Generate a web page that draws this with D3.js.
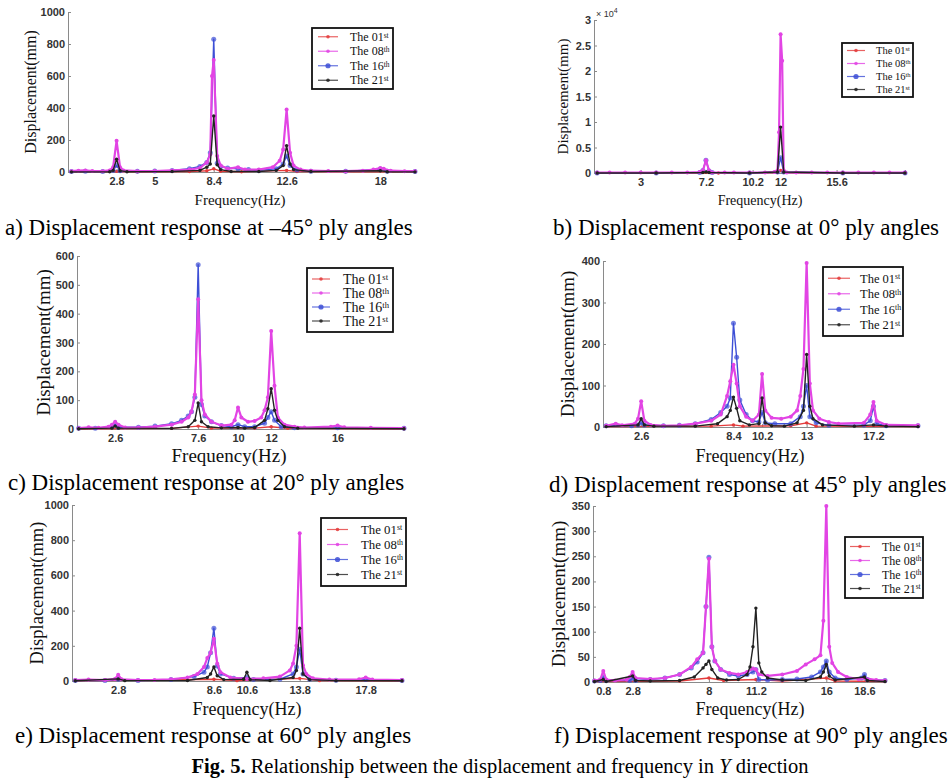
<!doctype html>
<html>
<head>
<meta charset="utf-8">
<script src="https://cdnjs.cloudflare.com/ajax/libs/d3/7.8.5/d3.min.js"></script>
<style>
body{margin:0;background:#fff;}
svg{display:block;font-family:"Liberation Serif","Times New Roman",serif;}
.tick text{font-family:"Liberation Sans",Arial,sans-serif;font-weight:bold;fill:#333;}
</style>
</head>
<body>
<svg id="fig" width="950" height="783"></svg>
<script>
var seriesNames = ["The 01", "The 08", "The 16", "The 21"];
var seriesSup = ["st", "th", "th", "st"];
var seriesColors = ["#e33b3b", "#e244e4", "#3d4fd6", "#222222"];

// a) -45 deg
var aXTicks = [2.8, 5, 8.4, 12.6, 18];
var aYTicks = [0, 200, 400, 600, 800, 1000];
var a01 = [[0.2,1],[2.8,4],[4,1],[7,3],[8,8],[8.4,20],[8.8,5],[10,2],[12.6,10],[13.2,3],[16,1],[20,1]];
var a08 = [[0.2,5],[0.6,8],[1,10],[1.4,6],[2,5],[2.4,10],[2.6,30],[2.8,195],[3,30],[3.2,10],[4,5],[5,6],[6,10],[7,15],[7.6,25],[8,60],[8.2,110],[8.3,600],[8.4,700],[8.6,100],[8.8,40],[9.2,20],[9.8,30],[10.2,15],[11,15],[11.8,30],[12.2,70],[12.4,140],[12.6,390],[12.8,120],[13,40],[13.4,15],[14,8],[15,6],[16,5],[17,8],[17.6,15],[18,25],[18.2,20],[18.6,8],[19.4,5],[20,5]];
var a16 = [[0.2,3],[1,5],[2,3],[2.6,10],[2.8,40],[3,8],[4,4],[5,6],[6,10],[7,20],[7.6,35],[8,60],[8.2,120],[8.4,830],[8.6,55],[8.8,35],[9.2,25],[9.8,20],[10.4,15],[11,10],[12,20],[12.4,50],[12.6,100],[12.8,40],[13.2,12],[14,5],[16,4],[18,18],[18.4,5],[20,3]];
var a21 = [[0.2,1],[2.4,2],[2.6,10],[2.8,80],[3,8],[3.4,2],[6,3],[7.6,10],[8,30],[8.2,50],[8.4,350],[8.6,45],[8.8,15],[9.4,3],[11,3],[12,10],[12.4,40],[12.6,165],[12.8,50],[13,15],[14,3],[18,8],[18.4,2],[20,1]];

// b) 0 deg (x 10^4)
var bXTicks = [3, 7.2, 10.2, 12, 15.6];
var bYTicks = [0, 0.5, 1, 1.5, 2, 2.5, 3];
var b01 = [[0.2,0],[4,0],[8,0],[11.8,0.01],[12,0.05],[12.2,0.01],[16,0],[20,0]];
var b08 = [[0.2,0.01],[1,0.01],[2,0.01],[3,0.01],[4,0.01],[5,0.01],[6,0.01],[6.8,0.02],[7,0.05],[7.2,0.25],[7.4,0.05],[7.6,0.01],[8.4,0.01],[9,0.01],[10,0.01],[11,0.01],[11.6,0.02],[11.8,0.05],[11.9,0.8],[12,2.72],[12.1,2.2],[12.2,0.05],[12.4,0.01],[13,0.01],[14,0.01],[15,0.01],[16,0.01],[17,0.01],[18,0.01],[19,0.01],[20,0.01]];
var b16 = [[0.2,0],[4,0],[6.8,0.01],[7,0.05],[7.2,0.25],[7.4,0.04],[7.6,0.01],[10,0],[11.8,0.02],[12,0.3],[12.2,0.02],[16,0],[20,0]];
var b21 = [[0.2,0],[4,0],[7,0.01],[7.2,0.02],[7.4,0.01],[10,0],[11.8,0.02],[12,0.9],[12.2,0.02],[16,0],[20,0]];

// c) 20 deg
var cXTicks = [2.6, 7.6, 10, 12, 16];
var cYTicks = [0, 100, 200, 300, 400, 500, 600];
var c01 = [[0.4,1],[6,2],[7.6,10],[8.4,3],[11,3],[12,8],[13,2],[20,1]];
var c08 = [[0.4,3],[1,6],[1.6,4],[2.2,8],[2.4,15],[2.6,25],[2.8,15],[3.2,5],[4,5],[5,8],[6,15],[6.6,25],[7,40],[7.2,60],[7.4,120],[7.6,450],[7.8,100],[8,50],[8.4,25],[9,12],[9.6,15],[9.8,30],[10,75],[10.2,40],[10.6,25],[11,28],[11.4,40],[11.6,65],[11.8,110],[12,340],[12.2,150],[12.4,40],[12.8,15],[13.4,8],[14,5],[15.6,8],[16,12],[16.4,6],[18,4],[20,3]];
var c16 = [[0.4,3],[1.4,3],[2.4,8],[2.6,15],[2.8,6],[4,6],[5,10],[6,18],[6.6,30],[7,45],[7.2,60],[7.4,110],[7.6,570],[7.8,85],[8,45],[8.4,25],[9,12],[9.6,8],[10,15],[10.4,8],[11,8],[11.6,20],[11.8,40],[12,60],[12.2,30],[12.6,8],[13.4,4],[16,4],[20,3]];
var c21 = [[0.4,1],[2.4,3],[2.6,10],[2.8,3],[6,2],[7,8],[7.4,30],[7.6,90],[7.8,25],[8.2,8],[9,4],[10,5],[10.4,3],[11,5],[11.6,30],[11.8,70],[12,140],[12.2,65],[12.4,30],[12.8,8],[13.6,3],[20,1]];

// d) 45 deg
var dXTicks = [2.6, 8.4, 10.2, 13, 17.2];
var dYTicks = [0, 100, 200, 300, 400];
var d01 = [[0.4,1],[7,2],[8.4,5],[9,2],[12,3],[13,10],[13.6,2],[20,1]];
var d08 = [[0.4,3],[1,8],[1.4,4],[2.2,8],[2.4,20],[2.6,62],[2.8,15],[3.2,5],[4,3],[5,4],[6,8],[7,15],[7.6,30],[8,75],[8.2,110],[8.4,150],[8.6,105],[8.8,50],[9.2,25],[9.6,15],[10,30],[10.2,128],[10.4,40],[10.8,22],[11.4,20],[12,25],[12.4,40],[12.6,75],[12.8,140],[13,395],[13.2,105],[13.4,40],[13.8,20],[14.4,12],[15,8],[16.6,10],[17,30],[17.2,60],[17.4,15],[18,5],[20,4]];
var d16 = [[0.4,3],[2,3],[2.4,5],[2.6,10],[2.8,5],[4,3],[5,4],[6,8],[7,18],[7.6,35],[8,50],[8.2,70],[8.4,250],[8.6,168],[8.8,65],[9.2,30],[9.6,15],[10,12],[10.2,35],[10.4,10],[11,8],[12,8],[12.6,25],[12.8,50],[13,100],[13.2,25],[13.6,10],[14.4,4],[16.6,5],[17,15],[17.2,50],[17.4,8],[18,3],[20,3]];
var d21 = [[0.4,1],[2.4,5],[2.6,20],[2.8,5],[3.4,2],[6,2],[7.4,8],[8,25],[8.2,40],[8.4,72],[8.6,45],[8.8,15],[9.4,5],[10,8],[10.2,70],[10.4,10],[10.8,3],[11.6,2],[12.4,10],[12.8,40],[13,175],[13.2,50],[13.4,20],[14,5],[16,2],[17.2,5],[18,2],[20,1]];

// e) 60 deg
var eXTicks = [2.8, 8.6, 10.6, 13.8, 17.8];
var eYTicks = [0, 200, 400, 600, 800, 1000];
var e01 = [[0.2,1],[8.6,10],[10,2],[13.8,15],[15,2],[20,1]];
var e08 = [[0.2,5],[1,8],[2,5],[2.6,12],[2.8,35],[3,10],[4,5],[5,6],[6,10],[7,20],[7.6,40],[8,80],[8.2,130],[8.4,160],[8.6,240],[8.8,100],[9,50],[9.6,20],[10.6,12],[11.6,15],[12.6,25],[13.2,60],[13.4,100],[13.6,200],[13.8,840],[14,90],[14.2,40],[14.6,15],[15.6,8],[17.4,10],[17.8,20],[18.2,8],[20,5]];
var e16 = [[0.2,3],[2,3],[2.8,10],[4,3],[6,8],[7.4,25],[8,50],[8.2,80],[8.4,160],[8.6,300],[8.8,85],[9,40],[9.8,15],[10.6,20],[11,8],[12.6,10],[13.4,40],[13.6,80],[13.8,180],[14,40],[14.4,10],[16,4],[17.8,8],[20,3]];
var e21 = [[0.2,1],[2.8,12],[3.2,2],[7,3],[8.2,20],[8.4,40],[8.6,80],[8.8,30],[9.2,8],[10.4,10],[10.6,50],[10.8,8],[12,3],[13.4,20],[13.6,60],[13.8,300],[14,40],[14.4,8],[16,2],[20,1]];

// f) 90 deg
var fXTicks = [0.8, 2.8, 8, 11.2, 16, 18.6];
var fYTicks = [0, 50, 100, 150, 200, 250, 300, 350];
var f01 = [[0.2,1],[6,2],[8,8],[9,3],[11.2,5],[13,2],[16,8],[16.6,2],[20,1]];
var f08 = [[0.2,3],[0.6,5],[0.8,22],[1,5],[1.6,3],[2.4,5],[2.6,10],[2.8,20],[3,8],[4,6],[5,8],[6,15],[6.8,30],[7.2,45],[7.6,58],[7.8,150],[8,245],[8.2,70],[8.4,42],[8.8,25],[9.4,18],[10,15],[10.6,20],[11,27],[11.2,25],[11.4,15],[12,12],[13,15],[14,22],[14.6,35],[15.2,45],[15.6,53],[15.8,122],[16,350],[16.2,70],[16.4,38],[16.8,20],[17.4,10],[18.2,6],[18.6,8],[19.4,4],[20,3]];
var f16 = [[0.2,2],[0.6,3],[0.8,10],[1,3],[2.6,3],[2.8,8],[3,3],[4,5],[5,8],[6,15],[6.8,28],[7.2,40],[7.6,58],[7.8,150],[8,248],[8.2,70],[8.4,42],[8.8,25],[9.4,15],[10,12],[10.6,15],[11,20],[11.2,25],[11.4,5],[12,4],[13,5],[14,6],[15,10],[15.6,20],[15.8,30],[16,42],[16.2,20],[16.6,8],[17.4,5],[18.4,8],[18.6,15],[18.8,5],[20,3]];
var f21 = [[0.2,1],[0.8,5],[1,1],[2.8,12],[3,3],[4,2],[6,3],[7,10],[7.6,28],[7.8,35],[8,42],[8.2,25],[8.6,8],[9.2,4],[10,5],[10.6,15],[10.8,30],[11,70],[11.2,147],[11.4,38],[11.6,20],[12,8],[13,4],[14.6,3],[15.6,10],[15.8,20],[16,35],[16.2,12],[16.6,4],[18.6,10],[18.8,3],[20,1]];

var captions = ["a) Displacement response at \u201345\u00b0 ply angles",
  "b) Displacement response at 0\u00b0 ply angles",
  "c) Displacement response at 20\u00b0 ply angles",
  "d) Displacement response at 45\u00b0 ply angles",
  "e) Displacement response at 60\u00b0 ply angles",
  "f) Displacement response at 90\u00b0 ply angles"];

// leg: [left, top, width, height, font size, row step, text offset, line start, line end]
var panels = [
  {data:[a01,a08,a16,a21], xt:aXTicks, yt:aYTicks, xDom:[0,20], yMax:1000, x0:68, x1:415, yT:12, yB:172,
   lab:15, ylab:16, ylx:30, xlx:240, xly:205, leg:[312,28,81,61,12,14.5,38,6,26], cap:[5,235]},
  {data:[b01,b08,b16,b21], xt:bXTicks, yt:bYTicks, xDom:[0,20], yMax:3, x0:594, x1:905, yT:20, yB:173,
   lab:14, ylab:15, ylx:563, xlx:760, xly:205, leg:[842,43,71,54,10.5,13,34,5,23], cap:[553,235], exp:true},
  {data:[c01,c08,c16,c21], xt:cXTicks, yt:cYTicks, xDom:[0.3,20], yMax:600, x0:77, x1:404, yT:256, yB:429,
   lab:19, ylab:19, ylx:43, xlx:229, xly:462, leg:[307,268,86,64,14,14,36,5,23], cap:[8,490]},
  {data:[d01,d08,d16,d21], xt:dXTicks, yt:dYTicks, xDom:[0.2,20], yMax:400, x0:603, x1:918, yT:261, yB:427,
   lab:18, ylab:19, ylx:567, xlx:750, xly:462, leg:[823,267,80,69,12.5,15.5,37,5,27], cap:[549,492]},
  {data:[e01,e08,e16,e21], xt:eXTicks, yt:eYTicks, xDom:[0,20], yMax:1000, x0:72, x1:402, yT:505, yB:681,
   lab:18, ylab:18.5, ylx:37, xlx:247, xly:715, leg:[321,518,85,68,12.8,15,40,6,27], cap:[15,743]},
  {data:[f01,f08,f16,f21], xt:fXTicks, yt:fYTicks, xDom:[0.1,20], yMax:350, x0:593, x1:885, yT:506, yB:682,
   lab:18, ylab:19, ylx:558, xlx:750, xly:715, leg:[845,537,78,61,12,14,37,5,25], cap:[554,743]}
];

var svg = d3.select("#fig");
var drawOrder = [0, 2, 1, 3];

panels.forEach(function(p, i) {
  var x = d3.scaleLinear().domain(p.xDom).range([p.x0, p.x1]);
  var y = d3.scaleLinear().domain([0, p.yMax]).range([p.yB, p.yT]);
  var g = svg.append("g");

  var xa = g.append("g").attr("transform", "translate(0," + p.yB + ")")
    .call(d3.axisBottom(x).tickValues(p.xt).tickSize(-3).tickPadding(5).tickFormat(function(d){ return String(d); }));
  var ya = g.append("g").attr("transform", "translate(" + p.x0 + ",0)")
    .call(d3.axisLeft(y).tickValues(p.yt).tickSize(-3).tickPadding(3).tickFormat(function(d){ return String(d); }));
  [xa, ya].forEach(function(a) {
    a.selectAll(".domain").attr("stroke", "#8a8a8a");
    a.selectAll(".tick line").attr("stroke", "#8a8a8a");
    a.selectAll(".tick text").style("font-size", "11px");
  });

  var line = d3.line().x(function(d){ return x(d[0]); }).y(function(d){ return y(d[1]); });
  drawOrder.forEach(function(k) {
    var s = p.data[k];
    g.append("path").datum(s).attr("d", line).attr("fill", "none")
      .attr("stroke", seriesColors[k]).attr("stroke-width", k == 1 ? 2.2 : 1.4).attr("stroke-linejoin", "round");
    g.selectAll(null).data(s).enter().append("circle")
      .attr("cx", function(d){ return x(d[0]); }).attr("cy", function(d){ return y(d[1]); })
      .attr("r", k == 2 ? 2.5 : (k == 1 ? 2 : 1.7))
      .attr("fill", seriesColors[k]).attr("fill-opacity", k == 2 ? 0.7 : 1);
  });

  if (p.exp) {
    var et = g.append("text").attr("x", p.x0 + 2).attr("y", p.yT - 3)
      .style("font-family", "Liberation Sans, Arial, sans-serif").style("font-size", "9px").attr("fill", "#333");
    et.append("tspan").text("\u00d7 10");
    et.append("tspan").attr("dy", -4).style("font-size", "7px").text("4");
  }

  // axis titles
  g.append("text").attr("transform", "translate(" + p.ylx + "," + ((p.yT + p.yB) / 2) + ") rotate(-90)")
    .attr("text-anchor", "middle").attr("dy", "0.35em").style("font-size", p.ylab + "px").attr("fill", "#111")
    .text("Displacement(mm)");
  g.append("text").attr("x", p.xlx).attr("y", p.xly).attr("text-anchor", "middle")
    .style("font-size", p.lab + "px").attr("fill", "#111").text("Frequency(Hz)");

  // legend
  var L = p.leg;
  var lg = g.append("g").attr("transform", "translate(" + L[0] + "," + L[1] + ")");
  lg.append("rect").attr("width", L[2]).attr("height", L[3]).attr("fill", "#fff")
    .attr("stroke", "#111").attr("stroke-width", 1.8);
  var top = (L[3] - L[5] * 3) / 2;
  seriesNames.forEach(function(n, k) {
    var ry = top + k * L[5];
    lg.append("line").attr("x1", L[7]).attr("x2", L[8]).attr("y1", ry).attr("y2", ry)
      .attr("stroke", seriesColors[k]).attr("stroke-width", 1.2).attr("stroke-opacity", 0.8);
    lg.append("circle").attr("cx", (L[7] + L[8]) / 2).attr("cy", ry).attr("r", k == 2 ? 2.6 : 1.8)
      .attr("fill", seriesColors[k]).attr("fill-opacity", 0.85);
    var t = lg.append("text").attr("x", L[6]).attr("y", ry).attr("dy", "0.35em")
      .style("font-size", L[4] + "px").attr("fill", "#111");
    t.append("tspan").text(n);
    t.append("tspan").attr("dy", "-0.45em").style("font-size", (L[4] * 0.62) + "px").text(seriesSup[k]);
  });

  svg.append("text").attr("x", p.cap[0]).attr("y", p.cap[1]).style("font-size", "23px")
    .attr("fill", "#000").text(captions[i]);
});

var fc = svg.append("text").attr("x", 500).attr("y", 773).attr("text-anchor", "middle")
  .style("font-size", "20.5px").attr("fill", "#000");
fc.append("tspan").style("font-weight", "bold").text("Fig. 5.");
fc.append("tspan").text(" Relationship between the displacement and frequency in ");
fc.append("tspan").style("font-style", "italic").text("Y");
fc.append("tspan").text(" direction");
</script>
</body>
</html>
